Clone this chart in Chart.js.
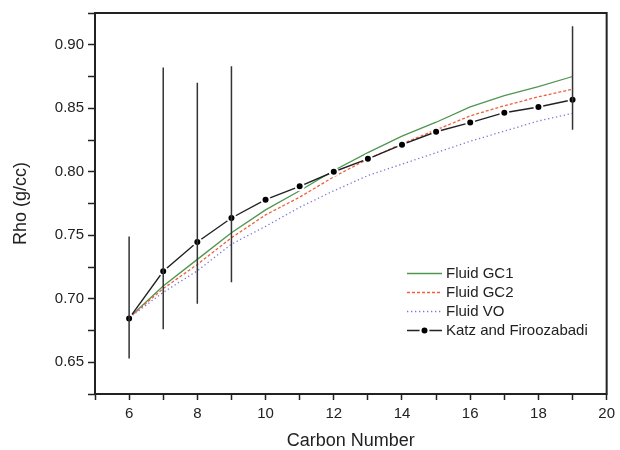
<!DOCTYPE html>
<html>
<head>
<meta charset="utf-8">
<script src="https://cdn.jsdelivr.net/npm/chart.js@4.4.1/dist/chart.umd.min.js"></script>
<style>
  body { margin: 0; background: #fff; }
  canvas { display: block; }
</style>
</head>
<body>
<canvas id="rhoChart" width="620" height="450"></canvas>
<script>
// carbon numbers and densities
const carbon = [6, 7, 8, 9, 10, 11, 12, 13, 14, 15, 16, 17, 18, 19];
const fluidGC1 = [0.685, 0.710, 0.731, 0.752, 0.770, 0.785, 0.801, 0.815, 0.828, 0.839, 0.851, 0.860, 0.867, 0.875];
const fluidGC2 = [0.685, 0.708, 0.727, 0.748, 0.766, 0.780, 0.796, 0.810, 0.822, 0.833, 0.844, 0.852, 0.859, 0.865];
const fluidVO = [0.685, 0.705, 0.722, 0.743, 0.757, 0.772, 0.785, 0.797, 0.806, 0.815, 0.824, 0.832, 0.840, 0.846];
const katz = [0.6845, 0.7216, 0.7447, 0.7636, 0.778, 0.7885, 0.800, 0.8102, 0.8213, 0.8315, 0.8387, 0.8465, 0.851, 0.8567];

// error bars (only some points have them)
const errCarbon = [6, 7, 8, 9, 19];
const errLow = [0.653, 0.676, 0.696, 0.713, 0.833];
const errHigh = [0.749, 0.882, 0.870, 0.883, 0.9145];

const xTicks = [5, 6, 7, 8, 9, 10, 11, 12, 13, 14, 15, 16, 17, 18, 19, 20];
const yTicks = [0.625, 0.65, 0.675, 0.70, 0.725, 0.75, 0.775, 0.80, 0.825, 0.85, 0.875, 0.90, 0.925];

const ink = "#222";
const fontFamily = "'Liberation Sans', Arial, sans-serif";

function pts(ys) {
    return carbon.map((c, i) => ({ x: c, y: ys[i] }));
}

const datasets = [];

// 🔹 error bars as two-point line datasets
errCarbon.forEach((c, i) => {
    datasets.push({
        label: "err" + c,
        data: [{ x: c, y: errLow[i] }, { x: c, y: errHigh[i] }],
        borderColor: "#333",
        borderWidth: 1.5,
        pointRadius: 0,
        order: 0
    });
});

datasets.push({
    label: "Katz and Firoozabadi",
    data: pts(katz),
    borderColor: ink,
    borderWidth: 1.4,
    pointRadius: 4,
    pointBackgroundColor: "#000",
    pointBorderColor: "#fff",
    pointBorderWidth: 2,
    order: 1,
    legend: 3
});
datasets.push({
    label: "Fluid VO",
    data: pts(fluidVO),
    borderColor: "#7878d8",
    borderWidth: 1.3,
    borderDash: [1.3, 2.7],
    pointRadius: 0,
    order: 2,
    legend: 2
});
datasets.push({
    label: "Fluid GC2",
    data: pts(fluidGC2),
    borderColor: "#f0603c",
    borderWidth: 1.3,
    borderDash: [3, 2],
    pointRadius: 0,
    order: 3,
    legend: 1
});
datasets.push({
    label: "Fluid GC1",
    data: pts(fluidGC1),
    borderColor: "#4f9650",
    borderWidth: 1.3,
    pointRadius: 0,
    order: 4,
    legend: 0
});

// 🔹 frame round the plot + legend box in the lower right
const framePlugin = {
    id: "frame",
    afterDraw(chart) {
        const ctx = chart.ctx;
        const a = chart.chartArea;
        ctx.save();
        ctx.strokeStyle = ink;
        ctx.lineWidth = 2;
        ctx.strokeRect(a.left, a.top, a.right - a.left, a.bottom - a.top);

        const items = chart.data.datasets.filter(d => d.legend !== undefined)
            .sort((p, q) => p.legend - q.legend);
        const x0 = 407, x1 = 442, tx = 446;
        ctx.font = "15px " + fontFamily;
        ctx.textBaseline = "middle";
        items.forEach((d, i) => {
            const y = 273.5 + i * 19;
            ctx.strokeStyle = d.borderColor;
            ctx.lineWidth = d.borderWidth;
            ctx.setLineDash(d.borderDash || []);
            ctx.beginPath();
            ctx.moveTo(x0, y);
            ctx.lineTo(x1, y);
            ctx.stroke();
            ctx.setLineDash([]);
            if (d.pointRadius > 0) {
                const cx = (x0 + x1) / 2;
                ctx.beginPath();
                ctx.arc(cx, y, 4, 0, Math.PI * 2);
                ctx.fillStyle = "#000";
                ctx.fill();
                ctx.strokeStyle = "#fff";
                ctx.lineWidth = 2;
                ctx.stroke();
            }
            ctx.fillStyle = ink;
            ctx.fillText(d.label, tx, y);
        });
        ctx.restore();
    }
};

new Chart(document.getElementById("rhoChart"), {
    type: "line",
    data: { datasets: datasets },
    options: {
        responsive: false,
        animation: false,
        layout: { padding: { top: 13, right: 9, left: 0, bottom: 0 } },
        plugins: {
            legend: { display: false },
            tooltip: { enabled: false }
        },
        scales: {
            x: {
                type: "linear",
                min: 5,
                max: 20,
                afterBuildTicks: s => { s.ticks = xTicks.map(v => ({ value: v })); },
                afterFit: s => { s.height = 56; },
                ticks: {
                    color: ink,
                    font: { family: fontFamily, size: 15 },
                    padding: 5,
                    maxRotation: 0,
                    autoSkip: false,
                    callback: v => (v % 2 === 0 && v > 5 ? String(v) : "")
                },
                grid: { drawOnChartArea: false, color: ink, tickLength: 6, tickWidth: 1.5 },
                border: { display: false },
                title: {
                    display: true,
                    text: "Carbon Number",
                    color: ink,
                    font: { family: fontFamily, size: 18 },
                    padding: { top: 0, bottom: -2 }
                }
            },
            y: {
                type: "linear",
                min: 0.625,
                max: 0.925,
                afterBuildTicks: s => { s.ticks = yTicks.map(v => ({ value: v })); },
                afterFit: s => { s.width = 95; },
                ticks: {
                    color: ink,
                    font: { family: fontFamily, size: 15 },
                    padding: 4,
                    autoSkip: false,
                    callback: v => (Math.round(v * 1000) % 50 === 0 ? v.toFixed(2) : "")
                },
                grid: { drawOnChartArea: false, color: ink, tickLength: 7, tickWidth: 1.5 },
                border: { display: false },
                title: {
                    display: true,
                    text: "Rho (g/cc)",
                    color: ink,
                    font: { family: fontFamily, size: 18 },
                    padding: { top: 10, bottom: 0 }
                }
            }
        }
    },
    plugins: [framePlugin]
});
</script>
</body>
</html>
